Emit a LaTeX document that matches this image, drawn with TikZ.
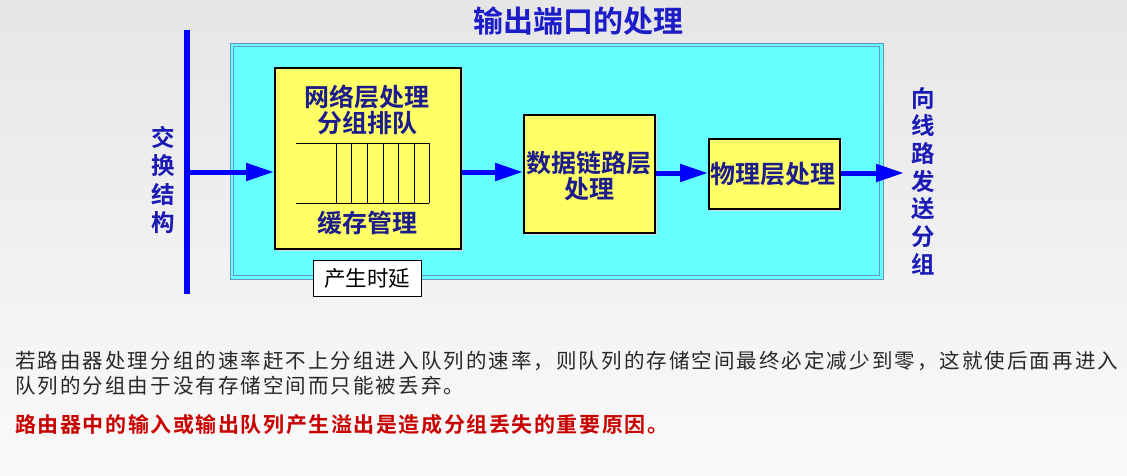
\documentclass[tikz,border=0pt]{standalone}
\usepackage{fontspec}
\setmainfont{Noto Sans CJK SC}
\newfontfamily\cjkbold{Noto Sans CJK SC Bold}
\newfontfamily\cjkspaced[LetterSpace=10]{Noto Sans CJK SC}
\newfontfamily\cjkspacedbold[LetterSpace=7.5]{Noto Sans CJK SC Bold}
\usetikzlibrary{arrows.meta}
\definecolor{bgtop}{RGB}{230,230,230}
\definecolor{bgbot}{RGB}{250,250,250}
\definecolor{cyanfill}{RGB}{102,255,255}
\definecolor{cyanedge}{RGB}{100,150,190}
\definecolor{yellowfill}{RGB}{255,255,102}
\definecolor{titleblue}{RGB}{28,28,200}
\definecolor{boxblue}{RGB}{28,28,140}
\definecolor{sideblue}{RGB}{26,26,180}
\definecolor{flowblue}{RGB}{0,0,255}
\definecolor{bodygray}{RGB}{40,40,40}
\definecolor{alertred}{RGB}{200,0,0}
\tikzset{
  ybox/.style={draw=black, line width=1.6pt, fill=yellowfill},
  boxtext/.style={text=boxblue, font=\cjkbold\fontsize{25}{26.5}\selectfont, align=center},
  sidetext/.style={text=sideblue, font=\cjkbold\fontsize{23.5}{28.5}\selectfont, align=center},
  flow/.style={draw=flowblue, line width=5pt, -{Triangle[length=28pt, width=17pt]}},
  qline/.style={draw=black, line width=0.8pt},
  shadowfill/.style={fill=gray!28},
}
\begin{document}
\begin{tikzpicture}[x=1pt, y=-1pt]
\shade[top color=bgtop, bottom color=bgbot] (0,0) rectangle (1127,476);
\useasboundingbox (0,0) rectangle (1127,476);
% title
\node[text=titleblue, font=\cjkbold\fontsize{30}{32}\selectfont] (title) at (578,21) {输出端口的处理};
% cyan area
\draw[cyanedge, line width=0.8pt, fill=cyanfill] (230,43) rectangle (883,279);
\draw[cyanedge, line width=0.8pt] (233.5,46.5) rectangle (879.5,275.5);
% vertical switch fabric line
\draw[flowblue, line width=6pt] (187,30) coordinate (vtop) -- (187,294) coordinate (vbot);
\coordinate (src) at (184,172);
\node[sidetext] (left) at (163,180) {交\\换\\结\\构};
% boxes with shadow
\fill[shadowfill] (276.5,69.5) rectangle (462.5,250.5);
\node[ybox, anchor=north west, minimum width=186pt, minimum height=181pt] (b1) at (274,67) {};
\fill[shadowfill] (525.5,116.5) rectangle (656.5,234.5);
\node[ybox, anchor=north west, minimum width=131pt, minimum height=118pt] (b2) at (523,114) {};
\fill[shadowfill] (710.5,140.5) rectangle (841.5,210.5);
\node[ybox, anchor=north west, minimum width=131pt, minimum height=70pt] (b3) at (708,138) {};
% box texts
\node[boxtext] (b1t) at (367,110) {网络层处理\\分组排队};
\node[boxtext] (b1b) at (367,223) {缓存管理};
\node[boxtext] (b2t) at (589,176) {数据链路层\\处理};
\node[boxtext] (b3t) at (773,174) {物理层处理};
% queue
\draw[qline] (296,143) -- (429,143);
\draw[qline] (296,203) -- (429,203);
\foreach \qx in {336,351.7,367.3,383.3,398.7,414,429} {\draw[qline] (\qx,143) -- (\qx,203);}
% delay label
\node[draw=black, line width=0.6pt, fill=white, anchor=north west, minimum width=108pt, minimum height=36pt, inner sep=0pt, font=\fontsize{21.5}{24}\selectfont, text=black] (delay) at (313,260) {产生时延};
% arrows
\draw[flow] (src) -- (b1.west |- src);
\draw[flow] (b1.east |- src) -- (b2.west |- src);
\draw[flow] (b2.east |- 0,173) -- (b3.west |- 0,173);
\coordinate (outend) at (904,173);
\draw[flow] (b3.east |- 0,173) -- (outend);
\node[sidetext, font=\cjkbold\fontsize{23.5}{27.7}\selectfont] (right) at (923,181) {向\\线\\路\\发\\送\\分\\组};
% bottom text
\node[anchor=west, inner sep=0pt, text=bodygray, font=\cjkspaced\fontsize{20.5}{24}\selectfont] (l1) at (15,361) {若路由器处理分组的速率赶不上分组进入队列的速率，则队列的存储空间最终必定减少到零，这就使后面再进入};
\node[anchor=west, inner sep=0pt, text=bodygray, font=\cjkspaced\fontsize{20.5}{24}\selectfont] (l2) at (15,386) {队列的分组由于没有存储空间而只能被丢弃。};
\node[anchor=west, inner sep=0pt, text=alertred, font=\cjkspacedbold\fontsize{21}{24}\selectfont] (l3) at (15,425) {路由器中的输入或输出队列产生溢出是造成分组丢失的重要原因。};
\end{tikzpicture}
\end{document}
